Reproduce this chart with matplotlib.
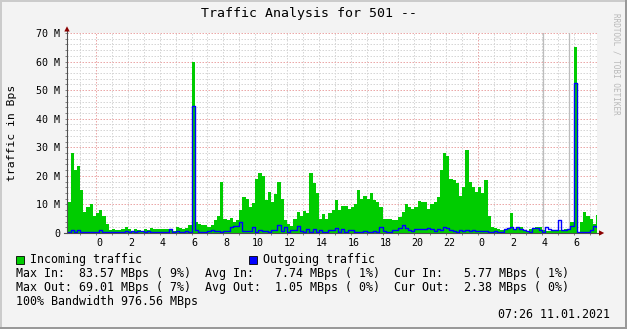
import numpy as np
import matplotlib
matplotlib.use("Agg")
import matplotlib.pyplot as plt
from matplotlib.patches import Rectangle, Polygon
from matplotlib.lines import Line2D
import matplotlib.transforms as mtransforms

# ---------------- data (values in M Bytes/s, 12-minute bins) ----------------
START_HOUR = -1.8      # first bin start, hours relative to midnight
STEP_HOUR = 0.2        # bin width in hours

incoming = [
    11, 28, 22, 23.5, 15, 7.5, 9, 10, 6, 7,
    8, 6, 3, 1.2, 1.3, 1.0, 1.0, 1.3, 2.0, 1.3,
    0.8, 1.5, 1.0, 0.8, 1.3, 1.0, 1.8, 1.5, 1.3, 1.5,
    1.3, 1.5, 1.0, 0.8, 2.0, 1.8, 1.3, 1.8, 2.8, 60,
    4, 3, 2.8, 2.8, 2.0, 2.8, 4.5, 6, 18, 5,
    4.5, 5.1, 4.0, 4.5, 8, 12.5, 12, 9, 10.4, 19,
    21, 20, 11.5, 14.5, 11, 13.5, 18, 12, 4.5, 3,
    2.5, 5, 7.5, 6, 7.8, 7, 21, 17.5, 14, 5,
    6.5, 5, 7, 8, 11.5, 8, 9.5, 9.5, 8.5, 9,
    10, 15, 11.8, 13, 12, 14, 11.5, 11, 9, 5,
    5, 5, 4.5, 4.5, 5.5, 7.5, 10, 9, 8.3, 9,
    11.3, 10.8, 11, 8.5, 10, 11, 12.6, 22, 28, 27,
    19, 18.5, 17.5, 13, 16, 29, 18, 16, 14.5, 16,
    14, 18.5, 6, 2, 1.8, 1.5, 0.9, 1.0, 1.5, 7,
    1.5, 1.6, 2.0, 1.0, 0.8, 1.3, 1.5, 2.0, 2.0, 1.0,
    0.8, 0.8, 0.8, 0.8, 1.0, 1.0, 1.3, 1.3, 4, 65,
    0.5, 4, 7.2, 6, 5, 3, 6.3,
]

outgoing = [
    0.35, 0.9, 0.5, 0.9, 0.35, 0.35, 0.35, 0.35, 0.35, 0.35,
    1.0, 0.35, 0.35, 0.35, 0.35, 0.35, 0.35, 0.35, 0.8, 0.35,
    0.8, 0.35, 0.8, 0.6, 0.35, 0.6, 0.35, 0.35, 0.35, 0.35,
    0.35, 0.35, 1.3, 0.35, 0.8, 0.35, 0.35, 0.8, 0.5, 44.5,
    1.0, 0.35, 0.35, 0.35, 0.8, 1.0, 0.8, 0.8, 0.5, 0.8,
    0.8, 2.0, 2.5, 2.6, 4.0, 0.6, 0.8, 0.8, 2.0, 0.5,
    1.2, 0.8, 0.8, 0.5, 1.2, 1.2, 2.7, 0.6, 2.0, 0.4,
    1.0, 1.0, 2.3, 0.8, 0.4, 1.3, 0.5, 1.3, 0.5, 1.0,
    0.4, 0.4, 0.9, 0.9, 1.75, 0.4, 1.3, 0.4, 1.0, 1.0,
    0.5, 0.5, 0.5, 0.8, 0.4, 0.4, 0.8, 0.4, 2.0, 0.8,
    0.4, 0.4, 1.0, 1.0, 1.75, 2.7, 1.6, 1.0, 0.6, 1.3,
    1.3, 1.5, 1.5, 1.75, 1.3, 0.8, 1.3, 1.0, 2.0, 1.6,
    1.0, 0.8, 0.4, 1.0, 0.8, 1.0, 0.8, 1.0, 0.8, 0.8,
    0.8, 0.8, 0.4, 0.4, 0.6, 0.3, 0.3, 1.3, 1.75, 2.0,
    1.3, 2.2, 1.5, 1.0, 0.8, 0.4, 1.6, 1.6, 1.0, 0.4,
    2.0, 1.3, 1.0, 1.0, 4.5, 0.9, 0.9, 1.5, 2.5, 52.5,
    0.3, 0.3, 0.3, 0.3, 1.0, 2.5, 2.0,
]

x_label_hours = [0, 2, 4, 6, 8, 10, 12, 14, 16, 18, 20, 22, 24, 26, 28, 30]
x_label_text = ['0', '2', '4', '6', '8', '10', '12', '14', '16', '18', '20', '22',
                '0', '2', '4', '6']
x_grid_hours = list(range(-1, 32))
midnight_hours = [0, 24]
y_major = [0, 10, 20, 30, 40, 50, 60, 70]
y_labels = ['0', '10 M', '20 M', '30 M', '40 M', '50 M', '60 M', '70 M']
y_minor = list(range(0, 71, 2))
vrule_hours = [28.08, 29.71]

title = 'Traffic Analysis for 501 --'
ylabel = 'traffic in Bps'
legend_in = 'Incoming traffic'
legend_out = 'Outgoing traffic'
stat_lines = [
    'Max In:  83.57 MBps ( 9%)  Avg In:   7.74 MBps ( 1%)  Cur In:   5.77 MBps ( 1%)',
    'Max Out: 69.01 MBps ( 7%)  Avg Out:  1.05 MBps ( 0%)  Cur Out:  2.38 MBps ( 0%)',
    '100% Bandwidth 976.56 MBps',
]
stamp = '07:26 11.01.2021'
watermark = 'RRDTOOL / TOBI OETIKER'

GREEN = '#00CC00'
BLUE = '#0000FF'
MONO = 'DejaVu Sans Mono'

# ---------------- figure ----------------
W, H = 627, 329
fig = plt.figure(figsize=(W / 100, H / 100), dpi=100)
fig.patch.set_facecolor('#F3F3F3')


def fx(px):
    return px / W


def fy(py):
    return 1 - py / H


L, R, T, B = 67, 597, 33, 233
ax = fig.add_axes([fx(L), fy(B), (R - L) / W, (B - T) / H])
ax.set_facecolor('white')
ax.set_xlim(-1.822, 31.47)
ax.set_ylim(0, 70)
for s in ax.spines.values():
    s.set_visible(False)

# grid: thin dotted lines (rendered as light 1px lines)
gkw = dict(lw=0.72, ls=(0, (1.5, 1.5)))
for yv in y_minor:
    if yv % 10 != 0:
        ax.axhline(yv, color='#D6D6D6', zorder=1, **gkw)
for yv in y_major[1:]:
    ax.axhline(yv, color='#EBA8A8', zorder=1.2, **gkw)
for hv in x_grid_hours:
    if hv in midnight_hours:
        ax.axvline(hv, color='#EBA8A8', zorder=1.2, **gkw)
    else:
        ax.axvline(hv, color='#D6D6D6', zorder=1, **gkw)
for hv in vrule_hours:
    ax.axvline(hv, color='#BDBDBD', lw=0.9, zorder=1.5)

# data
edges = START_HOUR + STEP_HOUR * np.arange(len(incoming) + 1)
ax.stairs(incoming, edges, fill=True, color=GREEN, lw=0, zorder=3)
ax.step(edges, np.append(outgoing, outgoing[-1]), where='post', color=BLUE,
        lw=1.0, zorder=4)

# ticks
ax.set_yticks(y_major, y_labels)
ax.set_yticks(y_minor, minor=True)
ax.set_xticks(x_label_hours, x_label_text)
ax.set_xticks(x_grid_hours, minor=True)
ax.tick_params(axis='both', which='both', direction='out', length=1.5,
               width=0.7, color='#808080', labelsize=7.2)
ax.tick_params(axis='y', which='major', pad=3.5)
ax.tick_params(axis='x', which='major', pad=2.3)
for lbl in ax.get_yticklabels() + ax.get_xticklabels():
    lbl.set_fontfamily(MONO)
off = mtransforms.ScaledTranslation(3 / 100, 0, fig.dpi_scale_trans)
for lbl in ax.get_xticklabels():
    lbl.set_transform(lbl.get_transform() + off)

# axis lines + arrows


def fline(x1, y1, x2, y2, **kw):
    fig.add_artist(Line2D([fx(x1), fx(x2)], [fy(y1), fy(y2)],
                          transform=fig.transFigure, **kw))


fline(L, B, L, 29, color='#505050', lw=0.8, zorder=10)
fline(64, B, 601, B, color='#505050', lw=0.8, zorder=10)
fig.add_artist(Polygon([(fx(64.3), fy(31.5)), (fx(69.7), fy(31.5)), (fx(67), fy(26.3))],
                       closed=True, transform=fig.transFigure, color='#8B0000',
                       lw=0, zorder=11))
fig.add_artist(Polygon([(fx(599), fy(230.3)), (fx(599), fy(235.7)), (fx(604.2), fy(233))],
                       closed=True, transform=fig.transFigure, color='#8B0000',
                       lw=0, zorder=11))

# frame shading
fig.add_artist(Rectangle((0, fy(2)), 1, 2 / H, transform=fig.transFigure,
                         color='#CBCBCB', lw=0))
fig.add_artist(Rectangle((0, 0), 2 / W, 1, transform=fig.transFigure,
                         color='#CBCBCB', lw=0))
fig.add_artist(Rectangle((0, 0), 1, 2 / H, transform=fig.transFigure,
                         color='#999999', lw=0))
fig.add_artist(Rectangle((1 - 2 / W, 0), 2 / W, 1, transform=fig.transFigure,
                         color='#999999', lw=0))

# texts
fig.text(fx(309), fy(14), title, ha='center', va='center', family=MONO,
         fontsize=9.5, color='black')
fig.text(fx(12), fy(133), ylabel, ha='center', va='center', rotation=90,
         family=MONO, fontsize=8.2, color='black')
fig.text(fx(616), fy(64), watermark, ha='center', va='center', rotation=270,
         family=MONO, fontsize=5.5, color='#B8B8B8')

# legend
for x0, col, txt, tx in [(16, GREEN, legend_in, 30.5), (249, BLUE, legend_out, 263)]:
    fig.add_artist(Rectangle((fx(x0), fy(263.5)), 7.5 / W, 8 / H,
                             transform=fig.transFigure, facecolor=col,
                             edgecolor='black', lw=0.6))
    fig.text(fx(tx), fy(259.5), txt, ha='left', va='center', family=MONO,
             fontsize=8.4, color='black')

for i, line in enumerate(stat_lines):
    fig.text(fx(16), fy(273.3 + 14 * i), line, ha='left', va='center',
             family=MONO, fontsize=8.4, color='black')
fig.text(fx(610), fy(315), stamp, ha='right', va='center', family=MONO,
         fontsize=8.4, color='black')

fig.savefig('out.png', dpi=100, facecolor=fig.get_facecolor())
